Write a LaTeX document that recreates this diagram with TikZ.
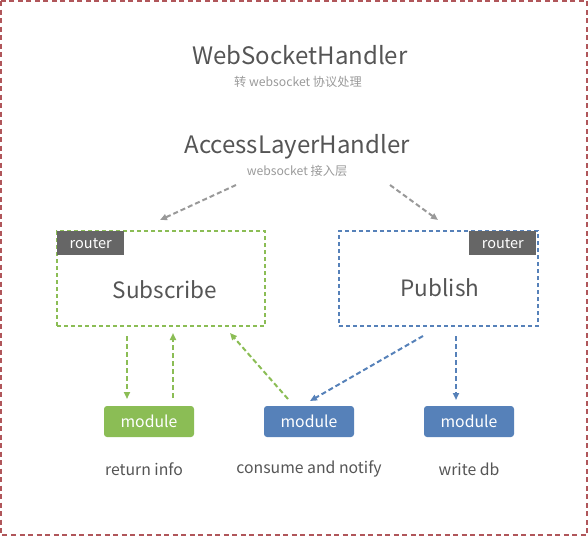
\documentclass[tikz,border=0pt]{standalone}
\usepackage{fontspec}
\setmainfont{Noto Sans CJK SC}
\usetikzlibrary{arrows.meta}
\definecolor{frame}{HTML}{B0565A}
\definecolor{subgreen}{HTML}{8BBD55}
\definecolor{pubblue}{HTML}{5681B9}
\definecolor{tabgray}{HTML}{666666}
\definecolor{txtgray}{HTML}{555555}
\definecolor{subgray}{HTML}{9A9A9A}
\definecolor{arrgray}{HTML}{999999}
\tikzset{
  title/.style={text=txtgray, font=\fontsize{24}{28}\selectfont},
  subtitle/.style={text=subgray, font=\fontsize{12.2}{14}\selectfont},
  router/.style={fill=tabgray, text=white, minimum width=67pt, minimum height=24pt, inner sep=0pt, font=\fontsize{14.5}{16}\selectfont},
  routerbox/.style={line width=2.2pt, dash pattern=on 4pt off 3pt, minimum width=208pt, minimum height=95pt},
  boxtext/.style={text=txtgray, font=\fontsize{22.5}{26}\selectfont},
  module/.style={rounded corners=3pt, text=white, minimum width=90pt, minimum height=31pt, inner sep=0pt, font=\fontsize{15.8}{18}\selectfont},
  caption/.style={text=txtgray, font=\fontsize{15.8}{18}\selectfont},
  flow/.style={line width=2pt, dash pattern=on 5pt off 3pt, -{Triangle[length=7pt,width=6pt]}},
}
\begin{document}
\begin{tikzpicture}[x=1pt,y=-1pt]
\useasboundingbox (0,0) rectangle (588,536);
\draw[frame, line width=2.2pt, dash pattern=on 5pt off 3.5pt] (1,1) rectangle (587,535);

% handlers
\node[title] (ws) at (300,55.5) {WebSocketHandler};
\node[subtitle] (wssub) at (298,82) {转 websocket 协议处理};
\node[title] (al) at (297,146.5) {AccessLayerHandler};
\node[subtitle] (alsub) at (297,171) {websocket 接入层};

% routers
\node[routerbox, draw=subgreen] (sub) at (161,278.5) {};
\node[boxtext] (subtxt) at (165,290) {Subscribe};
\node[router, anchor=north west] (subtab) at (57,231) {router};
\node[routerbox, draw=pubblue, minimum width=199pt] (pub) at (438.5,278.5) {};
\node[boxtext] (pubtxt) at (440,288) {Publish};
\node[router, anchor=north east] (pubtab) at (536.5,231) {router};

% modules
\node[module, fill=subgreen] (m1) at (149,421.5) {module};
\node[module, fill=pubblue] (m2) at (309,421.5) {module};
\node[module, fill=pubblue] (m3) at (469,421.5) {module};
\node[caption] (c1) at (144,469) {return info};
\node[caption] (c2) at (309,469) {consume and notify};
\node[caption] (c3) at (469,469) {write db};

% arrow ends
\coordinate (g1) at (236,185);
\coordinate (g2) at (160,220);
\coordinate (g3) at (390,185);
\coordinate (g4) at (438,220);
\coordinate (s1) at (127,336);
\coordinate (s2) at (127,399);
\coordinate (s3) at (173,398);
\coordinate (s4) at (173,333);
\coordinate (n1) at (288,399);
\coordinate (n2) at (230,333);
\coordinate (p1) at (423,336);
\coordinate (p2) at (310,401);
\coordinate (p3) at (456,336);
\coordinate (p4) at (456,400);

\draw[flow, arrgray] (g1) -- (g2);
\draw[flow, arrgray] (g3) -- (g4);
\draw[flow, subgreen] (s1) -- (s2);
\draw[flow, subgreen] (s3) -- (s4);
\draw[flow, subgreen] (n1) -- (n2);
\draw[flow, pubblue] (p1) -- (p2);
\draw[flow, pubblue] (p3) -- (p4);
\end{tikzpicture}
\end{document}
